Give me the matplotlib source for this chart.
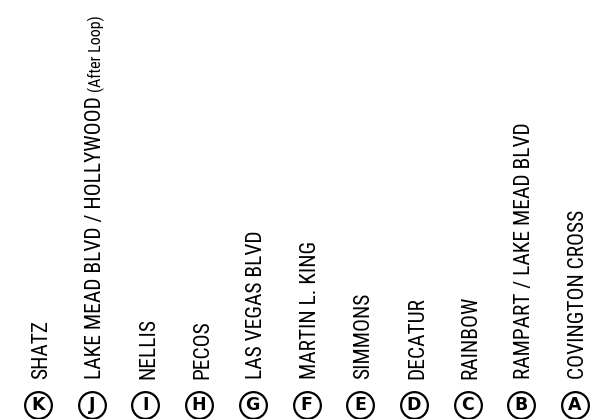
import matplotlib
matplotlib.use("Agg")
import matplotlib.pyplot as plt
from matplotlib import font_manager

letters = ["K", "J", "I", "H", "G", "F", "E", "D", "C", "B", "A"]
stops = [
    "SHATZ",
    "LAKE MEAD BLVD / HOLLYWOOD",
    "NELLIS",
    "PECOS",
    "LAS VEGAS BLVD",
    "MARTIN L. KING",
    "SIMMONS",
    "DECATUR",
    "RAINBOW",
    "RAMPART / LAKE MEAD BLVD",
    "COVINGTON CROSS",
]
notes = {"LAKE MEAD BLVD / HOLLYWOOD": "(After Loop)"}

names = {f.name for f in font_manager.fontManager.ttflist}
narrow = "DejaVu Sans"
for cand in ["Roboto Condensed", "Archivo Narrow", "PT Sans Narrow", "Liberation Sans Narrow"]:
    if cand in names:
        narrow = cand
        break

fig = plt.figure(figsize=(5.91, 4.19), dpi=100)
ax = fig.add_axes([0, 0, 1, 1])
step = 53.7
ax.set_xlim(-38 / step, (591 - 38) / step)
ax.set_ylim(419, 0)
ax.axis("off")

xs = list(range(len(letters)))
ax.scatter(xs, [404.5] * len(xs), s=370, facecolor="white", edgecolor="black",
           linewidth=1.6, zorder=2)
for x, let, name in zip(xs, letters, stops):
    ax.text(x, 405, let, ha="center", va="center", fontsize=12.5,
            fontweight="heavy", family="DejaVu Sans", zorder=3)
    t = ax.text(x + 9 / step, 379, name, rotation=90, rotation_mode="anchor",
                ha="left", va="baseline", fontsize=15.5, family=narrow)
    if name in notes:
        ax.annotate(notes[name], xy=(x + 9 / step, 1), xycoords=("data", t),
                    xytext=(0, 3), textcoords="offset points", rotation=90,
                    rotation_mode="anchor", ha="left", va="baseline",
                    fontsize=11.5, family=narrow)

fig.savefig("out.png", dpi=100)
